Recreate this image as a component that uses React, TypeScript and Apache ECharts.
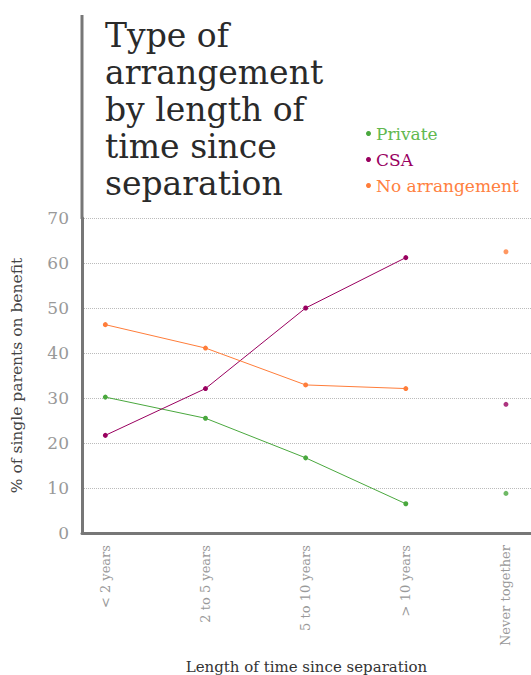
import React, { useEffect, useRef } from "react";
import * as echarts from "echarts";

const categories = ["< 2 years", "2 to 5 years", "5 to 10 years", "> 10 years", "Never together"];
const privateVals = [30.2, 25.5, 16.7, 6.5, 8.8];
const csaVals = [21.7, 32.1, 50.0, 61.2, 28.6];
const noneVals = [46.3, 41.1, 32.9, 32.1, 62.5];
const yTicks = [0, 10, 20, 30, 40, 50, 60, 70];

const seriesDefs = [
  { name: "Private", values: privateVals, color: "#4aa83e", text: "#62b84f" },
  { name: "CSA", values: csaVals, color: "#99005f", text: "#99005f" },
  { name: "No arrangement", values: noneVals, color: "#ff7d3a", text: "#ff8040" },
];

const FONT = "DejaVu Serif";

export default function App() {
  const ref = useRef<HTMLDivElement>(null);
  useEffect(() => {
    const chart = echarts.init(ref.current!, null, { renderer: "svg" });
    const series: any[] = [];
    seriesDefs.forEach((s) => {
      series.push({
        name: s.name,
        type: "line",
        data: s.values.slice(0, 4).map((v, i) => [i, v]),
        symbol: "circle",
        symbolSize: 5,
        lineStyle: { width: 1, color: s.color },
        itemStyle: { color: s.color },
        z: 3,
      });
      series.push({
        name: s.name,
        type: "scatter",
        data: [[4, s.values[4]]],
        symbol: "circle",
        symbolSize: 5,
        itemStyle: { color: s.color },
        z: 3,
      });
    });
    chart.setOption({
      animation: false,
      textStyle: { fontFamily: FONT },
      title: {
        text: "Type of\narrangement\nby length of\ntime since\nseparation",
        left: 100,
        top: 12,
        textStyle: {
          fontFamily: FONT,
          fontSize: 33,
          lineHeight: 37,
          fontWeight: "normal",
          color: "#2a2a2a",
        },
      },
      legend: {
        orient: "vertical",
        left: 361,
        top: 120,
        icon: "circle",
        itemWidth: 5,
        itemHeight: 5,
        itemGap: 9,
        data: seriesDefs.map((s) => ({
          name: s.name,
          textStyle: { color: s.text, fontSize: 17, fontFamily: FONT },
        })),
      },
      grid: { left: 82, right: 0, top: 218, bottom: 142, containLabel: false },
      xAxis: {
        type: "value",
        min: -0.233,
        max: 4.25,
        name: "Length of time since separation",
        nameLocation: "middle",
        nameGap: 126,
        nameTextStyle: { color: "#333", fontSize: 15, fontFamily: FONT },
        axisLine: { show: true, lineStyle: { color: "#777", width: 3 } },
        axisTick: { show: false },
        splitLine: { show: false },
        axisLabel: {
          customValues: [0, 1, 2, 3, 4],
          rotate: 90,
          color: "#999",
          fontSize: 13,
          fontFamily: FONT,
          margin: 12,
          formatter: (v: number) => categories[Math.round(v)] ?? "",
        },
      },
      yAxis: {
        type: "value",
        min: 0,
        max: 70,
        interval: 10,
        name: "% of single parents on benefit",
        nameLocation: "middle",
        nameGap: 57,
        nameTextStyle: { color: "#444", fontSize: 15.5, fontFamily: FONT },
        axisLine: { show: true, onZero: false, lineStyle: { color: "#777", width: 3 } },
        axisTick: { show: false },
        axisLabel: {
          color: "#999",
          fontSize: 17,
          fontFamily: FONT,
          margin: 13,
          formatter: (v: number) => (yTicks.includes(v) ? String(v) : ""),
        },
        splitLine: { show: true, lineStyle: { color: "#bbb", type: "dotted", width: 1 } },
      },
      graphic: [
        {
          type: "line",
          shape: { x1: 82, y1: 15, x2: 82, y2: 219 },
          style: { stroke: "#777", lineWidth: 3 },
          z: 10,
        },
      ],
      series,
    });
    return () => chart.dispose();
  }, []);
  return (
    <div style={{ position: "fixed", left: 0, top: 0, width: 531, height: 675, background: "#fff" }}>
      <div ref={ref} style={{ width: 531, height: 675 }} />
    </div>
  );
}
